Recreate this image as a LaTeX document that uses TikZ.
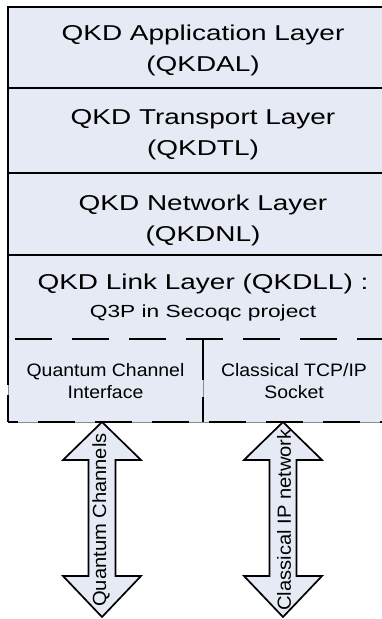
\documentclass[tikz,border=0pt]{standalone}
\usepackage{fontspec}
\setmainfont{Liberation Sans}
\newfontfamily\widefont[FakeStretch=1.3]{Liberation Sans}
\newfontfamily\midfont[FakeStretch=1.08]{Liberation Sans}
\newfontfamily\sidefont[FakeStretch=1.06]{Liberation Sans}
\definecolor{layerfill}{RGB}{230,234,245}

\begin{document}
\begin{tikzpicture}[x=1pt,y=-1pt,
  layertext/.style={font=\widefont\fontsize{21.5}{31}\selectfont, align=center, inner sep=0pt},
  subtext/.style={font=\midfont\fontsize{18}{22}\selectfont, align=center, inner sep=0pt},
  arrowtext/.style={font=\sidefont\fontsize{19}{22}\selectfont, inner sep=0pt, rotate=90},
  solidline/.style={line width=2.2pt, black},
  dashline/.style={line width=2.2pt, black, dash pattern=on 37pt off 20pt},
  thinline/.style={line width=0.6pt, black!45},
  bigarrow/.style={fill=layerfill, draw=black, line width=1.7pt, line join=miter}
]
\useasboundingbox (0,0) rectangle (382,619);

% stack background
\fill[layerfill] (8,7) rectangle (400,422);

% layer borders
\draw[solidline] (400,7) -- (8,7) -- (8,339);
\draw[solidline] (8,88) -- (400,88);
\draw[solidline] (8,173) -- (400,173);
\draw[solidline] (8,255) -- (400,255);

% interface row: dashed outline
\draw[dashline, dash phase=50pt] (8,339) -- (400,339);
\draw[thinline] (8,339) -- (8,422) -- (400,422);
\draw[thinline] (203,339) -- (203,422);
\draw[dashline, dash phase=27pt] (8,422) -- (400,422);
\draw[line width=2.2pt, dash pattern=on 46pt off 10pt] (8,339) -- (8,422);
\draw[line width=2.2pt, dash pattern=on 41pt off 17pt] (203,339) -- (203,422);

% layer labels
\node[layertext] (app) at (203,50.5) {QKD Application Layer\\(QKDAL)};
\node[layertext] (trans) at (203,135) {QKD Transport Layer\\(QKDTL)};
\node[layertext] (net) at (203,220) {QKD Network Layer\\(QKDNL)};
\node[layertext, anchor=base] (link) at (203,289) {QKD Link Layer (QKDLL) :};
\node[layertext, font=\widefont\fontsize{17.5}{22}\selectfont, anchor=base] (q3p) at (203,317) {Q3P in Secoqc project};
\node[subtext] (qci) at (105.5,381.5) {Quantum Channel\\Interface};
\node[subtext] (tcp) at (294,381.5) {Classical TCP/IP\\Socket};

% double-headed channel arrows
\foreach \cx/\nm in {102/qarrow, 283/carrow} {
  \draw[bigarrow] (\cx,422) -- (\cx+39,460) -- (\cx+13.5,460) -- (\cx+13.5,576)
    -- (\cx+39,576) -- (\cx,617) -- (\cx-39,576) -- (\cx-13.5,576)
    -- (\cx-13.5,460) -- (\cx-39,460) -- cycle;
  \coordinate (\nm) at (\cx,520);
}
\node[arrowtext] (qlabel) at ([xshift=-1pt]qarrow) {Quantum Channels};
\node[arrowtext] (clabel) at ([xshift=1pt]carrow) {Classical IP network};
\end{tikzpicture}
\end{document}
